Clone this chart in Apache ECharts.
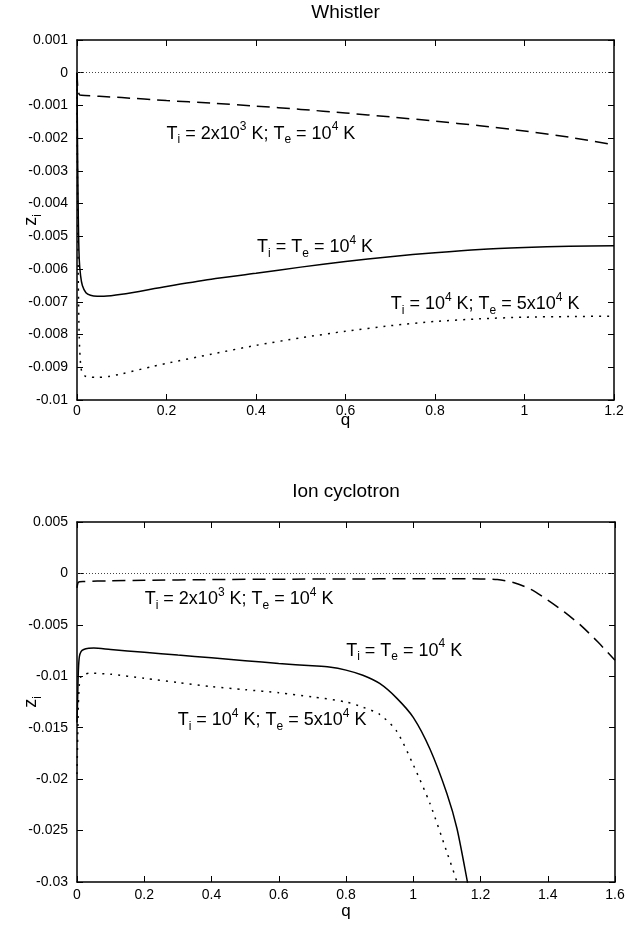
<!DOCTYPE html>
<html>
<head>
<meta charset="utf-8">
<script src="https://cdn.jsdelivr.net/npm/echarts@6/dist/echarts.min.js"></script>
<style>
  html, body { margin: 0; padding: 0; background: #fff; }
  #chart { width: 629px; height: 927px; }
</style>
</head>
<body>
<div id="chart"></div>
<script>
// ---- Whistler branch: z_i versus q ----
const whistlerColdQ = [0, 0.002, 0.005, 0.01, 0.05, 0.1, 0.2, 0.3, 0.4, 0.5, 0.6, 0.7, 0.8, 0.9, 1.0, 1.1, 1.2];
const whistlerColdZ = [0, -0.0005, -0.00066, -0.00069, -0.00072, -0.00076, -0.00085, -0.00093, -0.00102, -0.00112, -0.00123, -0.00135, -0.00148, -0.00162, -0.00178, -0.00197, -0.0022];

const whistlerEqualQ = [0, 0.001, 0.003, 0.005, 0.008, 0.012, 0.02, 0.03, 0.045, 0.06, 0.1, 0.2, 0.3, 0.4, 0.5, 0.6, 0.7, 0.8, 0.9, 1.0, 1.1, 1.2];
const whistlerEqualZ = [0, -0.002, -0.0045, -0.0057, -0.0062, -0.0065, -0.00672, -0.0068, -0.00683, -0.00683, -0.00677, -0.00653, -0.00631, -0.00613, -0.00594, -0.00577, -0.00562, -0.0055, -0.0054, -0.00534, -0.0053, -0.00529];

const whistlerHotQ = [0, 0.001, 0.003, 0.005, 0.008, 0.012, 0.02, 0.03, 0.045, 0.07, 0.1, 0.17, 0.2, 0.3, 0.4, 0.5, 0.6, 0.7, 0.8, 0.9, 1.0, 1.1, 1.2];
const whistlerHotZ = [0, -0.003, -0.0065, -0.0081, -0.0089, -0.0092, -0.00928, -0.0093, -0.00931, -0.00928, -0.0092, -0.00897, -0.00888, -0.0086, -0.00833, -0.0081, -0.0079, -0.00773, -0.0076, -0.00752, -0.00747, -0.00745, -0.00744];

// ---- Ion cyclotron branch: z_i versus q ----
const ionColdQ = [0, 0.003, 0.008, 0.02, 0.1, 0.2, 0.4, 0.6, 0.8, 1.0, 1.1, 1.2, 1.25, 1.3, 1.35, 1.4, 1.45, 1.5, 1.55, 1.6];
const ionColdZ = [-0.0014, -0.0009, -0.0008, -0.00078, -0.00072, -0.00067, -0.0006, -0.00056, -0.00054, -0.00052, -0.00052, -0.00053, -0.0006, -0.0009, -0.00155, -0.0026, -0.00376, -0.0051, -0.0067, -0.00845];

const ionEqualQ = [0, 0.002, 0.004, 0.007, 0.012, 0.02, 0.035, 0.05, 0.1, 0.2, 0.3, 0.4, 0.5, 0.6, 0.7, 0.75, 0.8, 0.85, 0.9, 0.95, 1.0, 1.05, 1.1, 1.13, 1.16, 1.175];
const ionEqualZ = [-0.0145, -0.012, -0.0095, -0.0081, -0.0076, -0.0074, -0.00728, -0.00725, -0.0074, -0.00766, -0.00794, -0.0082, -0.00848, -0.00875, -0.00898, -0.0091, -0.0094, -0.0099, -0.0107, -0.0121, -0.014, -0.0171, -0.0214, -0.0248, -0.0298, -0.0325];

const ionHotQ = [0, 0.002, 0.004, 0.007, 0.012, 0.02, 0.04, 0.1, 0.2, 0.3, 0.4, 0.5, 0.6, 0.7, 0.8, 0.85, 0.9, 0.95, 1.0, 1.05, 1.1, 1.13, 1.145];
const ionHotZ = [-0.0195, -0.016, -0.0128, -0.0108, -0.01, -0.0098, -0.0097, -0.0098, -0.0102, -0.0106, -0.011, -0.0113, -0.0116, -0.012, -0.0125, -0.013, -0.0137, -0.0153, -0.0186, -0.0224, -0.0271, -0.03, -0.0318];

// ---- axis ranges (min, max, step) ----
const whistlerQRange = [0, 1.2, 0.2];
const whistlerZRange = [-0.01, 0.001, 0.001];
const ionQRange = [0, 1.6, 0.2];
const ionZRange = [-0.03, 0.005, 0.005];

// ---- curve labels, anchored in data units ----
const labelCold = '{n|T}{sb|i}{n| = 2x10}{sp|3}{n| K; T}{sb|e}{n| = 10}{sp|4}{n| K}';
const labelEqual = '{n|T}{sb|i}{n| = T}{sb|e}{n| = 10}{sp|4}{n| K}';
const labelHot = '{n|T}{sb|i}{n| = 10}{sp|4}{n| K; T}{sb|e}{n| = 5x10}{sp|4}{n| K}';
const whistlerNotes = [
  { text: labelCold, at: [0.411, -0.00186] },
  { text: labelEqual, at: [0.532, -0.00532] },
  { text: labelHot, at: [0.912, -0.00706] }
];
const ionNotes = [
  { text: labelCold, at: [0.482, -0.0025] },
  { text: labelEqual, at: [0.973, -0.0075] },
  { text: labelHot, at: [0.58, -0.0143] }
];

const FONT = '"Liberation Sans", Arial, Helvetica, sans-serif';
const INK = '#000';

const richStyles = {
  n:  { fontSize: 18, fontFamily: FONT, color: INK, lineHeight: 25, verticalAlign: 'middle' },
  sp: { fontSize: 12, fontFamily: FONT, color: INK, lineHeight: 16, verticalAlign: 'top' },
  sb: { fontSize: 12, fontFamily: FONT, color: INK, lineHeight: 10, verticalAlign: 'bottom' }
};

function fmt(v) {
  return String(parseFloat(Number(v).toFixed(6)));
}

function pairs(q, z) {
  return q.map((x, i) => [x, z[i]]);
}

function xAxes(gridIndex, range, labelGap) {
  const base = {
    type: 'value', gridIndex: gridIndex,
    min: range[0], max: range[1], interval: range[2],
    splitLine: { show: false },
    axisLine: { show: true, onZero: false, lineStyle: { color: INK, width: 1.5 } },
    axisTick: { show: true, inside: true, length: 6, lineStyle: { color: INK, width: 1 } }
  };
  return [
    Object.assign({}, base, {
      position: 'bottom',
      axisLabel: { show: true, color: INK, fontSize: 14, fontFamily: FONT, margin: labelGap, formatter: fmt }
    }),
    Object.assign({}, base, { position: 'top', axisLabel: { show: false } })
  ];
}

function yAxes(gridIndex, range) {
  const base = {
    type: 'value', gridIndex: gridIndex,
    min: range[0], max: range[1], interval: range[2],
    splitLine: { show: false },
    axisLine: { show: true, onZero: false, lineStyle: { color: INK, width: 1.5 } },
    axisTick: { show: true, inside: true, length: 6, lineStyle: { color: INK, width: 1 } }
  };
  return [
    Object.assign({}, base, {
      position: 'left',
      axisLabel: { show: true, color: INK, fontSize: 14, fontFamily: FONT, margin: 9, formatter: fmt }
    }),
    Object.assign({}, base, { position: 'right', axisLabel: { show: false } })
  ];
}

const zeroLine = {
  silent: true, symbol: 'none',
  label: { show: false },
  lineStyle: { color: '#444', width: 1, type: [1, 2] },
  data: [{ yAxis: 0 }]
};

function curve(axisIndex, q, z, dash, width, withZero) {
  const s = {
    type: 'line',
    xAxisIndex: axisIndex, yAxisIndex: axisIndex,
    data: pairs(q, z),
    showSymbol: false, symbol: 'none',
    smooth: 0.25,
    clip: true,
    animation: false,
    lineStyle: { color: INK, width: width, type: dash }
  };
  if (withZero) s.markLine = zeroLine;
  return s;
}

const chart = echarts.init(document.getElementById('chart'), null, { renderer: 'canvas' });

const option = {
  backgroundColor: '#fff',
  animation: false,
  grid: [
    { left: 77, top: 40, width: 537, height: 360 },
    { left: 77, top: 522, width: 538, height: 360 }
  ],
  xAxis: xAxes(0, whistlerQRange, 4).concat(xAxes(1, ionQRange, 6)),
  yAxis: yAxes(0, whistlerZRange).concat(yAxes(1, ionZRange)),
  series: [
    curve(0, whistlerColdQ, whistlerColdZ, [13, 7], 1.5, true),
    curve(0, whistlerEqualQ, whistlerEqualZ, 'solid', 1.5, false),
    curve(0, whistlerHotQ, whistlerHotZ, [2, 6], 1.5, false),
    curve(2, ionColdQ, ionColdZ, [13, 7], 1.5, true),
    curve(2, ionEqualQ, ionEqualZ, 'solid', 1.5, false),
    curve(2, ionHotQ, ionHotZ, [2, 6], 1.5, false)
  ]
};

chart.setOption(option);

// Titles, axis names and curve labels placed from the grid geometry
function textEl(x, y, text, extra) {
  return {
    type: 'text', x: x, y: y, silent: true,
    style: Object.assign({
      text: text, fill: INK, fontFamily: FONT, fontSize: 18,
      align: 'center', verticalAlign: 'middle', rich: richStyles
    }, extra || {})
  };
}

const panels = [
  { idx: 0, title: 'Whistler', notes: whistlerNotes, xr: whistlerQRange, yr: whistlerZRange, titleGap: 27, nameGap: 20 },
  { idx: 2, title: 'Ion cyclotron', notes: ionNotes, xr: ionQRange, yr: ionZRange, titleGap: 30, nameGap: 29 }
];

const graphics = [];
panels.forEach(function (panel) {
  const finder = { xAxisIndex: panel.idx, yAxisIndex: panel.idx };
  const topLeft = chart.convertToPixel(finder, [panel.xr[0], panel.yr[1]]);
  const botRight = chart.convertToPixel(finder, [panel.xr[1], panel.yr[0]]);
  const cx = (topLeft[0] + botRight[0]) / 2;
  const cy = (topLeft[1] + botRight[1]) / 2;
  graphics.push(textEl(cx, topLeft[1] - panel.titleGap, panel.title, { fontSize: 19 }));
  graphics.push(textEl(cx, botRight[1] + panel.nameGap, 'q', { fontSize: 17 }));
  const yName = textEl(topLeft[0] - 46, cy, '{n|z}{sb|i}');
  yName.rotation = Math.PI / 2;
  graphics.push(yName);
  panel.notes.forEach(function (note) {
    const p = chart.convertToPixel(finder, note.at);
    graphics.push(textEl(p[0], p[1], note.text));
  });
});

chart.setOption({ graphic: graphics });
</script>
</body>
</html>
